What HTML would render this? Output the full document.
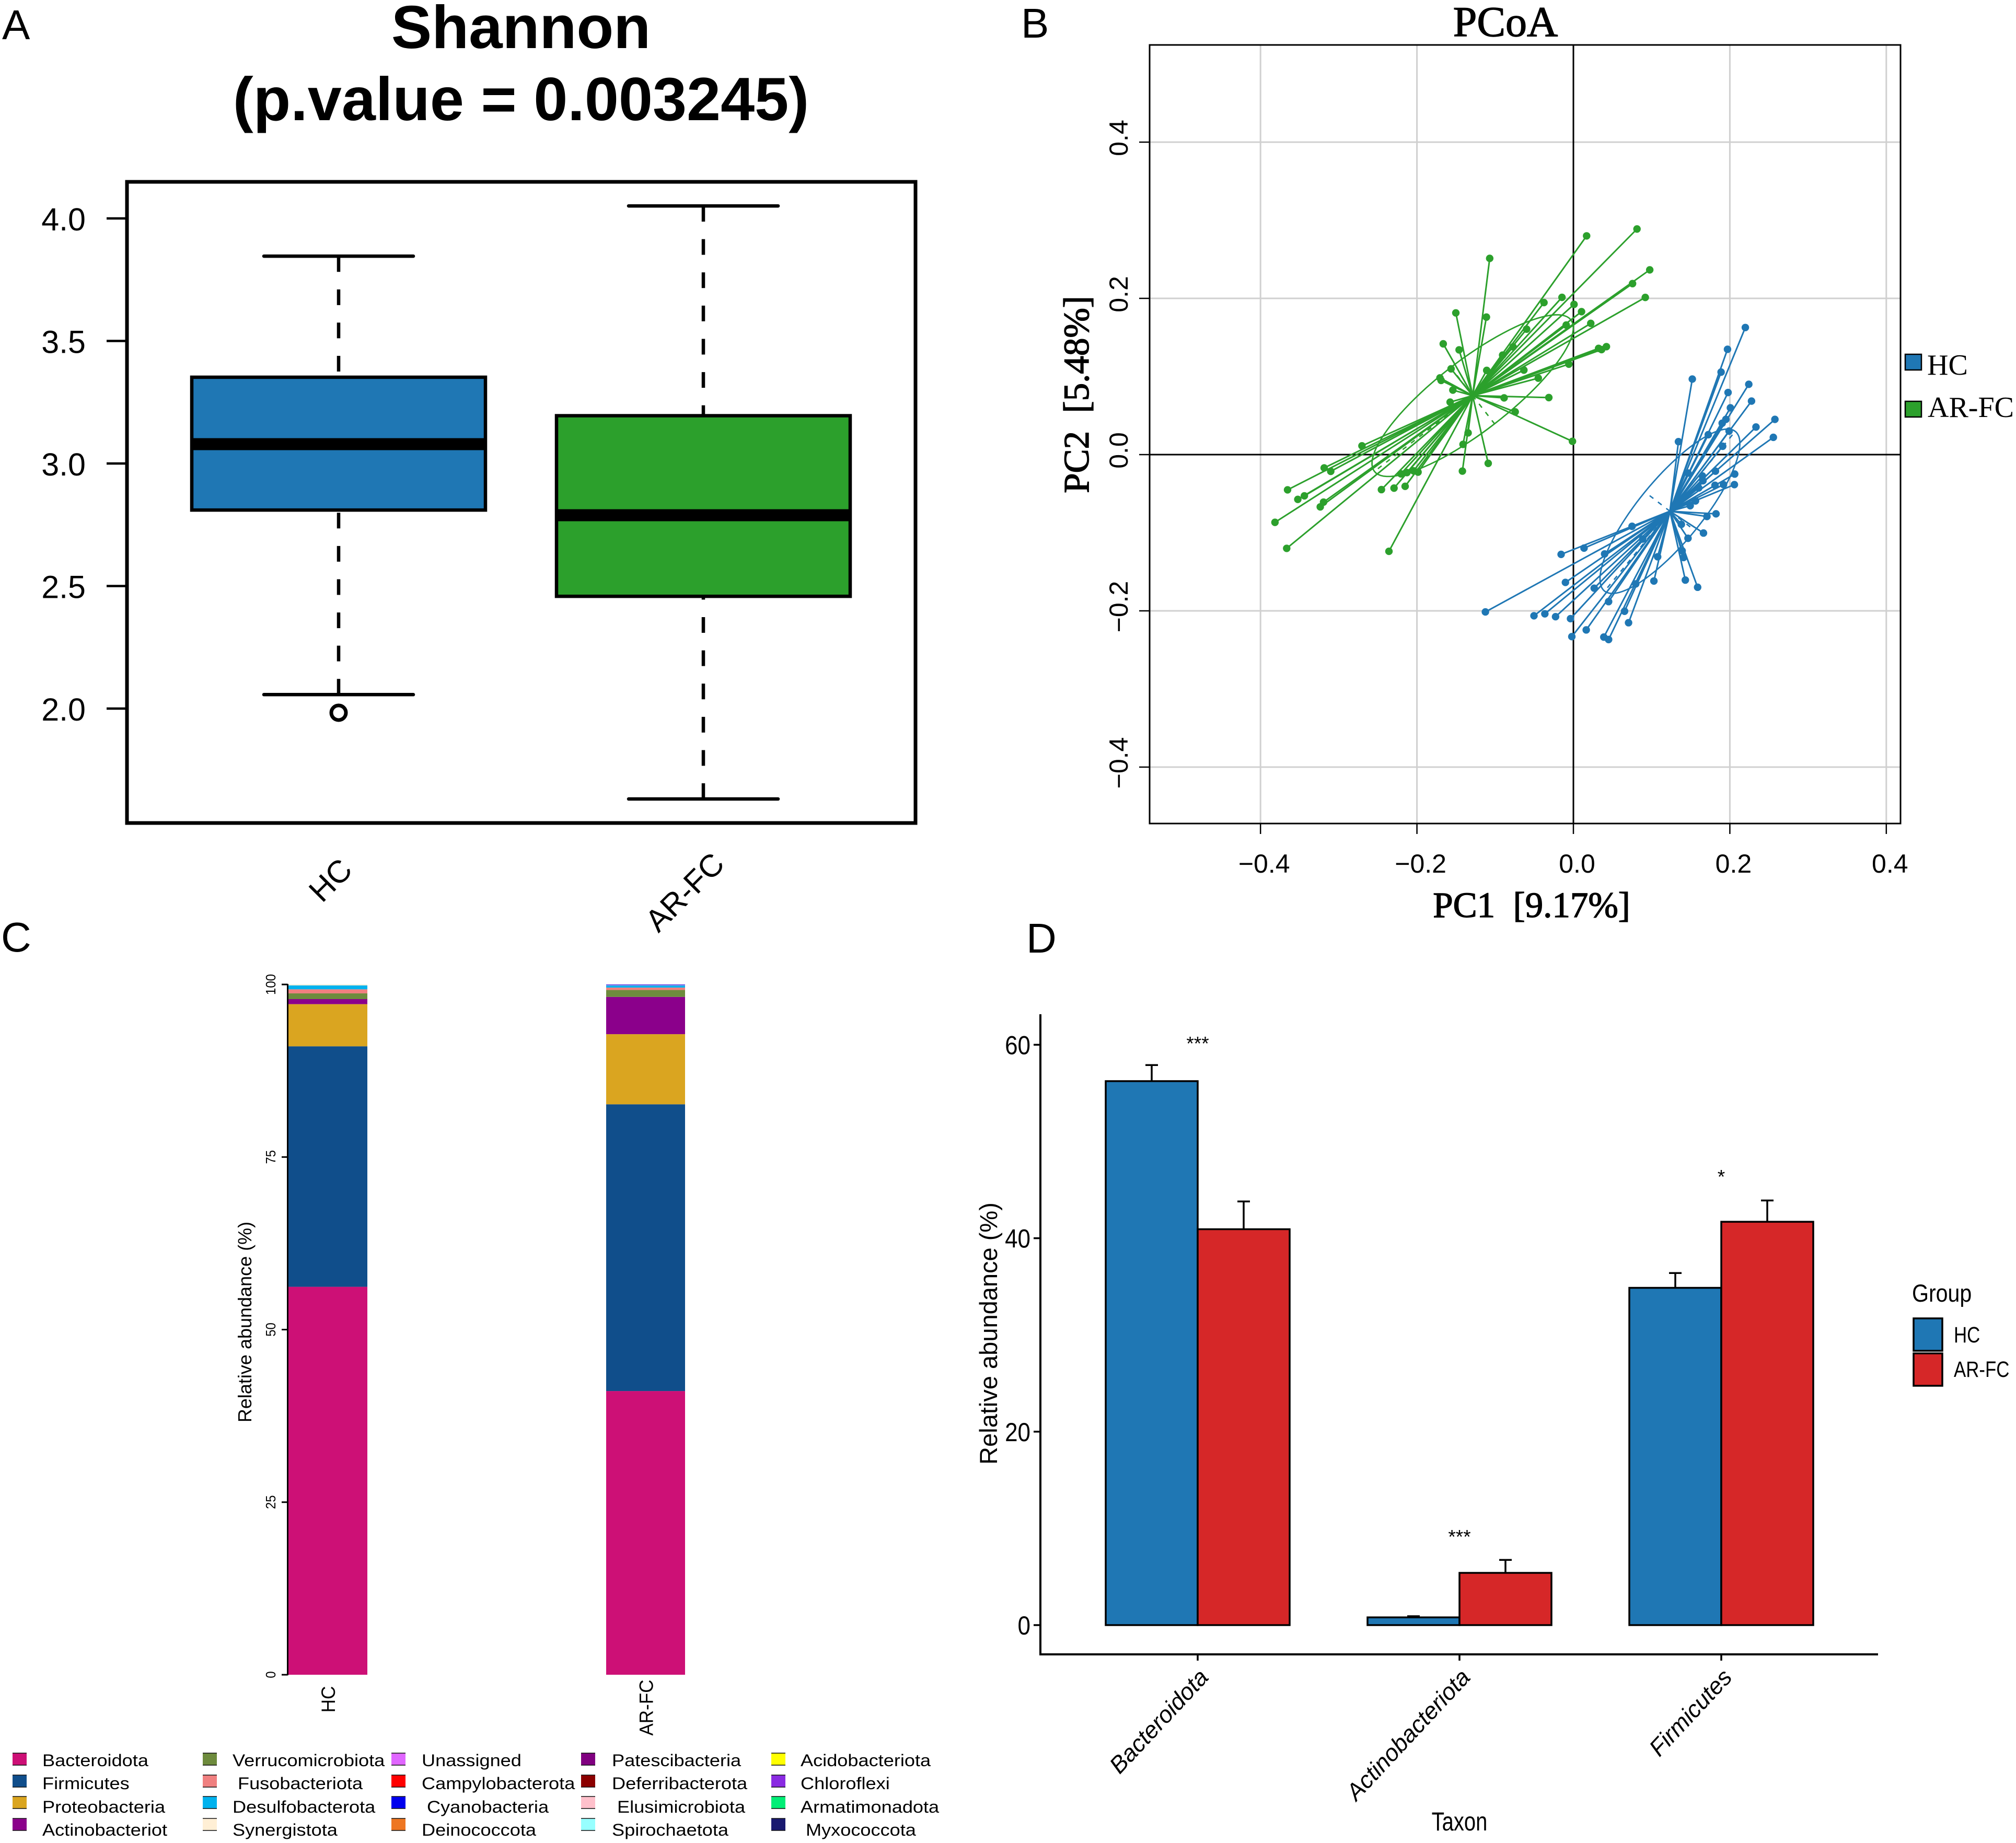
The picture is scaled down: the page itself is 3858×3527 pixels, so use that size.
<!DOCTYPE html>
<html lang="en">
<head>
<meta charset="utf-8">
<title>Shannon, PCoA and relative abundance panels</title>
<style>
html,body{margin:0;padding:0;background:#fff;}
svg{display:block;}
text{font-family:"Liberation Sans",sans-serif;fill:#000;}
.serif{font-family:"Liberation Serif",serif;}
.semi{stroke:#000;stroke-width:1.4px;}
</style>
</head>
<body>
<svg id="fig" xmlns="http://www.w3.org/2000/svg" width="3858" height="3527" viewBox="0 0 3858 3527">
  <rect x="0" y="0" width="3858" height="3527" fill="#fff"/>

  <text x="4" y="75" font-size="80">A</text>
  <text x="1954" y="72" font-size="80">B</text>
  <text x="2" y="1821" font-size="80">C</text>
  <text x="1964" y="1823" font-size="80">D</text>

  <g id="panelA">
    <text x="997" y="92" font-size="116" font-weight="bold" text-anchor="middle">Shannon</text>
    <text x="997" y="230" font-size="117" font-weight="bold" text-anchor="middle">(p.value = 0.003245)</text>
  </g>

  <g id="panelB">
    <text class="serif semi" x="2881" y="69" font-size="82" text-anchor="middle">PCoA</text>
    <text class="serif semi" x="2931" y="1755" font-size="69" text-anchor="middle" style="white-space:pre">PC1  [9.17%]</text>
    <text class="serif semi" transform="translate(2083 755) rotate(-90)" font-size="69" text-anchor="middle" style="white-space:pre">PC2  [5.48%]</text>
    <rect x="3646" y="678" width="31" height="30" fill="#1f77b4" stroke="#000" stroke-width="2.5"/>
    <text class="serif" x="3688" y="717" font-size="56">HC</text>
    <rect x="3646" y="768" width="31" height="30" fill="#2ca02c" stroke="#000" stroke-width="2.5"/>
    <text class="serif" x="3689" y="798" font-size="56">AR-FC</text>
  </g>

  <g id="panelC">
    <text transform="translate(481 2530) rotate(-90)" font-size="36" text-anchor="middle">Relative abundance (%)</text>
  </g>

  <g id="panelD">
    <text transform="translate(1908 2552) rotate(-90)" font-size="47" text-anchor="middle">Relative abundance (%)</text>
    <text transform="translate(2793 3503) scale(0.8 1)" font-size="50" text-anchor="middle">Taxon</text>
    <text transform="translate(3659 2491) scale(0.875 1)" font-size="47">Group</text>
    <rect x="3662" y="2523" width="55" height="62" fill="#1f77b4" stroke="#000" stroke-width="3.5"/>
    <rect x="3662" y="2590" width="55" height="62" fill="#d62728" stroke="#000" stroke-width="3.5"/>
    <text transform="translate(3739 2569) scale(0.81 1)" font-size="43">HC</text>
    <text transform="translate(3739 2635) scale(0.81 1)" font-size="43">AR-FC</text>
  </g>
</svg>

<script>
/* ---------- Panel A data ---------- */
const boxCategories = ['HC', 'AR-FC'];
const boxQ1 = [2.81, 2.458];
const boxMedian = [3.079, 2.789];
const boxQ3 = [3.352, 3.195];
const boxWhiskerLow = [2.057, 1.631];
const boxWhiskerHigh = [3.846, 4.051];
const boxOutliers = [[1.983], []];
const boxTicks = [2.0, 2.5, 3.0, 3.5, 4.0];
const boxTickLabels = ['2.0', '2.5', '3.0', '3.5', '4.0'];

/* ---------- Panel B data ---------- */
const pcoaTicks = [-0.4, -0.2, 0, 0.2, 0.4];
const pcoaTickLabels = ['\u22120.4', '\u22120.2', '0.0', '0.2', '0.4'];
const hcCentroid = [0.1234, -0.0725];
const hcEllipseMajor = [0.0835, 0.1023];
const hcEllipseMinor = [-0.032, 0.0247];
const hcPc1 = [0.2198,0.197,0.1888,0.152,0.2242,0.1977,0.2277,0.2007,0.1949,0.1902,0.2576,0.2334,0.199,0.1724,0.2556,0.1343,0.1908,0.1465,0.1816,0.1649,0.1656,0.2062,0.2058,0.181,0.1919,0.1602,0.1561,0.1493,0.1823,0.1707,0.138,0.1663,0.1465,0.139,0.1408,0.1431,0.1588,0.075,0.0886,0.1077,0.1029,0.0136,-0.0157,0.0399,-0.0102,0.0266,0.0797,0.045,0.0654,0.0705,-0.1125,-0.0504,-0.0365,-0.0228,-0.0037,-0.002,0.0164,0.0389,0.045];
const hcPc2 = [0.1627,0.1348,0.1056,0.0967,0.09,0.0795,0.0685,0.0599,0.0451,0.0402,0.0451,0.0353,0.0301,0.0255,0.0221,0.0166,0.0107,-0.0236,-0.0212,-0.0273,-0.0335,-0.0249,-0.0384,-0.0393,-0.0384,-0.0427,-0.0593,-0.0654,-0.0758,-0.0792,-0.0893,-0.1004,-0.1071,-0.1231,-0.1317,-0.1606,-0.1698,-0.0918,-0.1081,-0.1308,-0.1618,-0.1197,-0.1277,-0.1271,-0.1636,-0.171,-0.1655,-0.1882,-0.2005,-0.2152,-0.2014,-0.2063,-0.2038,-0.2075,-0.21,-0.233,-0.2244,-0.2336,-0.2367];
const arCentroid = [-0.1288, 0.0755];
const arEllipseMajor = [0.1256, 0.097];
const arEllipseMinor = [0.028, -0.0361];
const arPc1 = [0.0169,-0.107,-0.1503,-0.1112,-0.1664,-0.1461,-0.1564,-0.1706,-0.1691,-0.1541,-0.1576,-0.1108,-0.0905,-0.0771,-0.0598,-0.0376,-0.0146,0.0008,0.0104,-0.0092,0.0222,-0.0633,-0.0449,-0.0058,0.0322,0.036,0.0422,-0.0886,-0.0314,-0.0744,-0.0012,-0.1346,-0.1411,-0.1419,-0.1089,-0.2703,-0.3186,-0.3102,-0.3654,-0.3523,-0.3439,-0.3194,-0.3236,-0.3815,-0.3665,-0.2358,-0.2454,-0.2293,-0.2151,-0.2205,-0.2128,-0.2044,-0.1986,0.0813,0.0976,0.0756,0.0919];
const arPc2 = [0.28,0.2512,0.1814,0.176,0.1418,0.1341,0.1098,0.0982,0.095,0.0826,0.0672,0.1078,0.1274,0.1379,0.1606,0.1946,0.2013,0.1923,0.183,0.1658,0.168,0.1082,0.0979,0.1158,0.136,0.1344,0.1382,0.0726,0.073,0.0547,0.017,0.0278,0.0131,-0.0211,-0.0112,0.0112,-0.017,-0.0214,-0.0451,-0.0573,-0.0528,-0.0608,-0.0669,-0.0867,-0.12,-0.1238,-0.0448,-0.0429,-0.0406,-0.0246,-0.023,-0.0208,-0.0224,0.2888,0.2365,0.2189,0.2012];

/* ---------- Panel C data ---------- */
const stackGroups = ['HC', 'AR-FC'];
const phylumNames = ['Bacteroidota','Firmicutes','Proteobacteria','Actinobacteriot','Verrucomicrobiota',' Fusobacteriota','Desulfobacterota','Synergistota','Unassigned','Campylobacterota',' Cyanobacteria','Deinococcota','Patescibacteria','Deferribacterota',' Elusimicrobiota','Spirochaetota','Acidobacteriota','Chloroflexi','Armatimonadota',' Myxococcota'];
const phylumColors = ['#cd1076','#104e8b','#daa520','#8b008b','#6e8b3d','#f08080','#00b2ee','#ffefd5','#e066ff','#ff0000','#0000ee','#ee7621','#800080','#8b0000','#ffc0cb','#97ffff','#ffff00','#8a2be2','#00ee76','#191970'];
const stackHc = [56.2,34.84,6.11,0.73,0.83,0.59,0.57,0.13,0,0,0,0,0,0,0,0,0,0,0,0];
const stackArFc = [41.1,41.54,10.16,5.4,1.0,0.35,0.32,0.01,0.04,0.02,0.06,0,0,0,0,0,0,0,0,0];
const stackTicks = [0, 25, 50, 75, 100];
const stackTickLabels = ['0', '25', '50', '75', '100'];

/* ---------- Panel D data ---------- */
const taxonCategories = ['Bacteroidota', 'Actinobacteriota', 'Firmicutes'];
const taxonHc = [56.24, 0.8, 34.87];
const taxonArFc = [40.93, 5.4, 41.7];
const taxonHcError = [1.66, 0.12, 1.53];
const taxonArFcError = [2.87, 1.34, 2.2];
const taxonSignificance = ['***', '***', '*'];
const taxonSignificanceLevel = [60.6, 9.6, 46.8];
const taxonTicks = [0, 20, 40, 60];
const taxonTickLabels = ['0', '20', '40', '60'];

/* ---------- helpers ---------- */
const NS = 'http://www.w3.org/2000/svg';
function mk(parent, tag, name, attrs) {
  const el = document.createElementNS(NS, tag);
  
  
  for (const k in attrs) el.setAttribute(k, attrs[k]);
  parent.appendChild(el);
  return el;
}
function line(parent, name, x1, y1, x2, y2, stroke, w, extra) {
  return mk(parent, 'line', name, Object.assign({x1, y1, x2, y2, stroke, 'stroke-width': w}, extra || {}));
}
function label(parent, name, str, transform, size, extra) {
  const el = mk(parent, 'text', name, Object.assign({transform, 'font-size': size}, extra || {}));
  el.textContent = str;
  return el;
}
const gA = document.getElementById('panelA');
const gB = document.getElementById('panelB');
const gC = document.getElementById('panelC');
const gD = document.getElementById('panelD');

/* ---------- Panel A: boxplot ---------- */
const yA = v => 1356 - (v - 2) * 469;
const xA = i => 648 + i * 698;
boxTicks.forEach((t, i) => {
  line(gA, 'y-tick-' + boxTickLabels[i], 204, yA(t), 242, yA(t), '#000', 4.5);
  label(gA, 'y-tick-label-' + boxTickLabels[i], boxTickLabels[i], `translate(164 ${yA(t) + 23})`, 61, {'text-anchor': 'end'});
});
boxCategories.forEach((c, i) => {
  const cx = xA(i);
  const fill = i === 0 ? '#1f77b4' : '#2ca02c';
  const dash = {'stroke-dasharray': '30 33.6'};
  line(gA, 'whisker-upper-' + c, cx, yA(boxWhiskerHigh[i]), cx, yA(boxQ3[i]), '#000', 6.5, dash);
  line(gA, 'whisker-lower-' + c, cx, yA(boxWhiskerLow[i]), cx, yA(boxQ1[i]), '#000', 6.5, dash);
  line(gA, 'whisker-cap-upper-' + c, cx - 143, yA(boxWhiskerHigh[i]), cx + 143, yA(boxWhiskerHigh[i]), '#000', 6.5, {'stroke-linecap': 'round'});
  line(gA, 'whisker-cap-lower-' + c, cx - 143, yA(boxWhiskerLow[i]), cx + 143, yA(boxWhiskerLow[i]), '#000', 6.5, {'stroke-linecap': 'round'});
  mk(gA, 'rect', 'box-' + c, {x: cx - 281, y: yA(boxQ3[i]), width: 562, height: yA(boxQ1[i]) - yA(boxQ3[i]), fill, stroke: '#000', 'stroke-width': 6.5});
  line(gA, 'median-' + c, cx - 281, yA(boxMedian[i]), cx + 281, yA(boxMedian[i]), '#000', 23);
  boxOutliers[i].forEach(o => {
    mk(gA, 'circle', 'outlier-' + c, {cx, cy: yA(o), r: 14, fill: 'none', stroke: '#000', 'stroke-width': 7});
  });
});
mk(gA, 'rect', 'plot-frame', {x: 243, y: 348, width: 1509, height: 1227, fill: 'none', stroke: '#000', 'stroke-width': 7});
label(gA, 'x-label-hc', boxCategories[0], 'translate(632 1684) rotate(-45)', 60, {'text-anchor': 'middle', dy: '0.35em'});
label(gA, 'x-label-ar-fc', boxCategories[1], 'translate(1310 1707) rotate(-45)', 60, {'text-anchor': 'middle', dy: '0.35em'});

/* ---------- Panel B: PCoA ---------- */
const xB = v => 3011 + v * 1497;
const yB = v => 870 - v * 1495;
const B = {l: 2200, r: 3637, t: 86, b: 1576};
pcoaTicks.forEach((t, i) => {
  const lab = pcoaTickLabels[i];
  if (t !== 0) {
    line(gB, 'grid-vertical-' + lab, xB(t), B.t, xB(t), B.b, '#d0d0d0', 3);
    line(gB, 'grid-horizontal-' + lab, B.l, yB(t), B.r, yB(t), '#d0d0d0', 3);
  }
  line(gB, 'x-tick-' + lab, xB(t), B.b, xB(t), B.b + 20, '#000', 2.5);
  line(gB, 'y-tick-' + lab, B.l - 20, yB(t), B.l, yB(t), '#000', 2.5);
  label(gB, 'x-tick-label-' + lab, lab, `translate(${xB(t) + 7} 1670)`, 50, {'text-anchor': 'middle'});
  label(gB, 'y-tick-label-' + lab, lab, `translate(2158 ${yB(t) - 8}) rotate(-90)`, 50, {'text-anchor': 'middle'});
});
line(gB, 'zero-line-vertical', xB(0), B.t, xB(0), B.b, '#000', 3);
line(gB, 'zero-line-horizontal', B.l, yB(0), B.r, yB(0), '#000', 3);
mk(gB, 'rect', 'plot-frame', {x: B.l, y: B.t, width: B.r - B.l, height: B.b - B.t, fill: 'none', stroke: '#000', 'stroke-width': 3});

function drawGroup(key, color, centroid, major, minor, pc1, pc2) {
  const g = mk(gB, 'g', 'pcoa-group-' + key, {});
  const cx = xB(centroid[0]), cy = yB(centroid[1]);
  let d = '';
  for (let k = 0; k <= 96; k++) {
    const a = k / 96 * 2 * Math.PI;
    const px = centroid[0] + major[0] * Math.cos(a) + minor[0] * Math.sin(a);
    const py = centroid[1] + major[1] * Math.cos(a) + minor[1] * Math.sin(a);
    d += (k ? 'L' : 'M') + xB(px).toFixed(1) + ' ' + yB(py).toFixed(1);
  }
  mk(g, 'path', 'confidence-ellipse-' + key, {d, fill: 'none', stroke: color, 'stroke-width': 2.7});
  [[major, 1], [major, -1], [minor, 1], [minor, -1]].forEach(([v, s]) => {
    line(g, 'ellipse-axis-' + key, cx, cy, xB(centroid[0] + s * v[0]), yB(centroid[1] + s * v[1]), color, 2.6, {'stroke-dasharray': '9 11'});
  });
  pc1.forEach((p, i) => {
    line(g, 'spider-line-' + key, cx, cy, xB(p), yB(pc2[i]), color, 3);
  });
  pc1.forEach((p, i) => {
    mk(g, 'circle', 'sample-point-' + key, {cx: xB(p), cy: yB(pc2[i]), r: 7.2, fill: color});
  });
}
drawGroup('ar-fc', '#2ca02c', arCentroid, arEllipseMajor, arEllipseMinor, arPc1, arPc2);
drawGroup('hc', '#1f77b4', hcCentroid, hcEllipseMajor, hcEllipseMinor, hcPc1, hcPc2);

/* ---------- Panel C: stacked bars ---------- */
const yC = v => 3205 - v * 13.21;
const stackX = [[550.5, 703], [1160, 1311]];
const stackSeries = [stackHc, stackArFc];
const stackLabelCenter = [3252, 3268];
stackGroups.forEach((c, i) => {
  let base = 0;
  stackSeries[i].forEach((v, j) => {
    if (v > 0) {
      mk(gC, 'rect', 'stack-' + c + '-' + phylumNames[j].trim(), {x: stackX[i][0], y: yC(base + v), width: stackX[i][1] - stackX[i][0], height: v * 13.21, fill: phylumColors[j]});
    }
    base += v;
  });
  const mid = (stackX[i][0] + stackX[i][1]) / 2;
  label(gC, 'stack-x-label-' + c, c, `translate(${mid + 14} ${stackLabelCenter[i]}) rotate(-90) scale(0.95 1)`, 37, {'text-anchor': 'middle'});
});
line(gC, 'stack-y-axis', 550.5, yC(100) - 1, 550.5, yC(0) + 1, '#000', 3);
stackTicks.forEach((t, i) => {
  line(gC, 'stack-y-tick-' + stackTickLabels[i], 539, yC(t), 550.5, yC(t), '#000', 3);
  label(gC, 'stack-y-tick-label-' + stackTickLabels[i], stackTickLabels[i], `translate(527 ${yC(t)}) rotate(-90) scale(0.92 1)`, 26, {'text-anchor': 'middle'});
});
const legendSwatchX = [24, 388, 749, 1112, 1476];
const legendTextX = [81, 445, 807, 1171, 1532];
const legendRowY = [3355, 3397, 3438, 3480];
const legendBaseY = [3380, 3424, 3469, 3513];
phylumNames.forEach((n, idx) => {
  const col = Math.floor(idx / 4), row = idx % 4;
  const nm = n.trim();
  const sx = legendSwatchX[col], sy = legendRowY[row];
  mk(gC, 'rect', 'legend-swatch-' + nm, {x: sx, y: sy, width: 27, height: 23, fill: phylumColors[idx]});
  line(gC, 'legend-swatch-edge-top-' + nm, sx, sy, sx + 27, sy, '#111', 1.6);
  line(gC, 'legend-swatch-edge-bottom-' + nm, sx, sy + 23, sx + 27, sy + 23, '#111', 1.6);
  const tx = legendTextX[col] + (n.startsWith(' ') ? 10 : 0);
  label(gC, 'legend-label-' + nm, nm, `translate(${tx} ${legendBaseY[row]}) scale(1.13 1)`, 32);
});

/* ---------- Panel D: grouped bars ---------- */
const yD = v => 3110 - v * 18.51;
const xD = i => 2292 + i * 501;
const dBarW = 176;
taxonCategories.forEach((c, i) => {
  const cx = xD(i);
  line(gD, 'error-bar-hc-' + c, cx - dBarW / 2, yD(taxonHc[i] + taxonHcError[i]), cx - dBarW / 2, yD(taxonHc[i]), '#000', 3.5);
  line(gD, 'error-cap-hc-' + c, cx - dBarW / 2 - 12, yD(taxonHc[i] + taxonHcError[i]), cx - dBarW / 2 + 12, yD(taxonHc[i] + taxonHcError[i]), '#000', 3.5);
  line(gD, 'error-bar-ar-fc-' + c, cx + dBarW / 2, yD(taxonArFc[i] + taxonArFcError[i]), cx + dBarW / 2, yD(taxonArFc[i]), '#000', 3.5);
  line(gD, 'error-cap-ar-fc-' + c, cx + dBarW / 2 - 12, yD(taxonArFc[i] + taxonArFcError[i]), cx + dBarW / 2 + 12, yD(taxonArFc[i] + taxonArFcError[i]), '#000', 3.5);
  mk(gD, 'rect', 'bar-hc-' + c, {x: cx - dBarW, y: yD(taxonHc[i]), width: dBarW, height: yD(0) - yD(taxonHc[i]), fill: '#1f77b4', stroke: '#000', 'stroke-width': 3.5});
  mk(gD, 'rect', 'bar-ar-fc-' + c, {x: cx, y: yD(taxonArFc[i]), width: dBarW, height: yD(0) - yD(taxonArFc[i]), fill: '#d62728', stroke: '#000', 'stroke-width': 3.5});
  label(gD, 'significance-' + c, taxonSignificance[i], `translate(${cx} ${yD(taxonSignificanceLevel[i]) + 21})`, 37, {'text-anchor': 'middle'});
  line(gD, 'x-tick-' + c, cx, 3166, cx, 3178, '#000', 3.5);
  label(gD, 'x-tick-label-' + c, c, `translate(${cx + 23} 3212) rotate(-47)`, 45, {'text-anchor': 'end', 'font-style': 'italic'});
});
line(gD, 'y-axis-line', 1991, 1941, 1991, 3168, '#000', 4);
line(gD, 'x-axis-line', 1989, 3166, 3594, 3166, '#000', 4);
taxonTicks.forEach((t, i) => {
  line(gD, 'y-tick-' + taxonTickLabels[i], 1978, yD(t), 1991, yD(t), '#000', 3.5);
  label(gD, 'y-tick-label-' + taxonTickLabels[i], taxonTickLabels[i], `translate(1972 ${yD(t) + 18}) scale(0.88 1)`, 50, {'text-anchor': 'end'});
});
</script>
</body>
</html>
